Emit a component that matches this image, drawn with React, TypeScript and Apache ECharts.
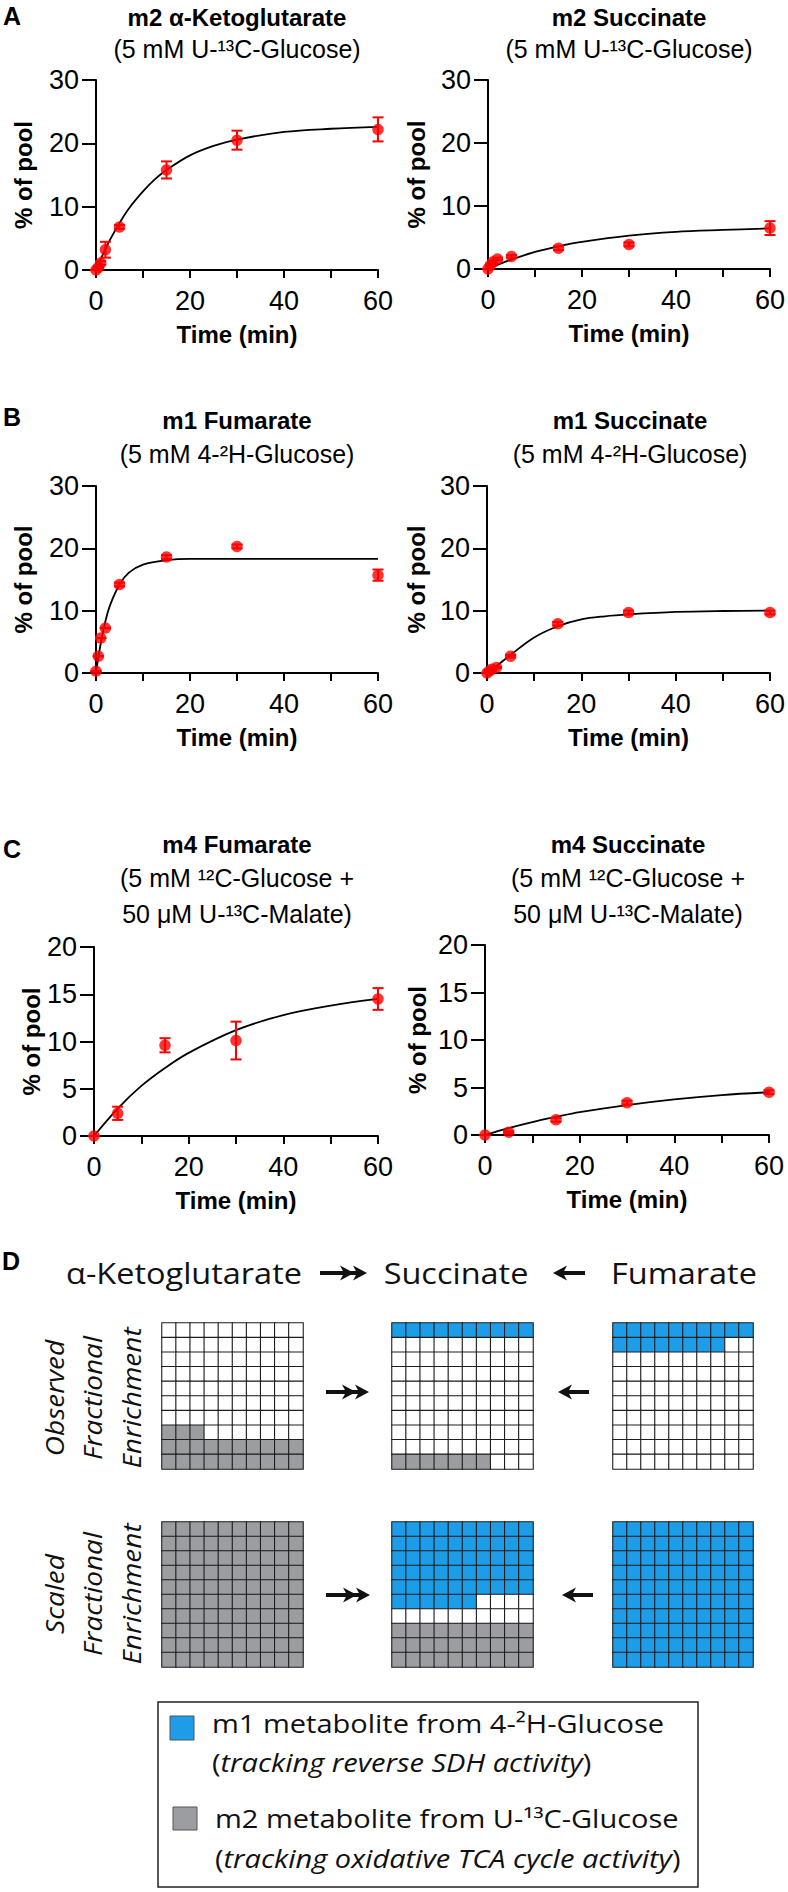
import React, { useEffect, useRef } from "react";
import * as echarts from "echarts";

// ---------------- data ----------------
const timeEarly = [0, 0.5, 1, 2, 5, 15, 30, 60];
const timeMalate = [0, 5, 15, 30, 60];

const akgM2Mean = [0, 0.4, 1.1, 3.2, 6.8, 15.8, 20.5, 22.2];
const akgM2Sem = [0, 0.2, 0.3, 1.25, 0.3, 1.35, 1.5, 1.9];
const akgM2FitT = [0, 1, 2, 3, 5, 7, 10, 12.5, 15, 20, 25, 30, 40, 50, 60];
const akgM2FitY = [0, 1.7, 3.3, 4.8, 7.4, 9.7, 12.4, 14.3, 15.8, 18.1, 19.6, 20.6, 21.8, 22.3, 22.6];

const sucM2Mean = [0, 0.6, 1.1, 1.6, 2.0, 3.3, 3.9, 6.5];
const sucM2Sem = [0, 0.1, 0.2, 0.2, 0.2, 0.3, 0.3, 1.1];
const sucM2FitT = [0, 2, 5, 10, 15, 20, 30, 40, 50, 60];
const sucM2FitY = [0, 0.65, 1.5, 2.7, 3.6, 4.3, 5.3, 5.9, 6.2, 6.45];

const fumM1Mean = [0.3, 2.7, 5.6, 7.2, 14.2, 18.6, 20.3, 15.7];
const fumM1Sem = [0, 0, 0, 0, 0.3, 0.3, 0.3, 0.9];
const fumM1FitT = [0, 0.5, 1, 2, 3, 5, 7, 10, 15, 20, 30, 40, 50, 60];
const fumM1FitY = [0, 2.5, 4.7, 8.3, 10.9, 14.2, 16.1, 17.4, 18.1, 18.3, 18.3, 18.3, 18.3, 18.3];

const sucM1Mean = [0, 0.3, 0.6, 0.9, 2.7, 7.9, 9.7, 9.7];
const sucM1Sem = [0, 0, 0, 0.1, 0.2, 0.3, 0.3, 0.3];
const sucM1FitT = [0, 1, 2, 5, 10, 15, 20, 25, 30, 40, 50, 60];
const sucM1FitY = [0, 0.5, 1.1, 2.9, 5.7, 7.5, 8.6, 9.1, 9.4, 9.8, 9.95, 10.0];

const fumM4Mean = [0, 2.4, 9.6, 10.1, 14.5];
const fumM4Sem = [0, 0.7, 0.75, 2.0, 1.15];
const fumM4FitT = [0, 5, 10, 15, 20, 30, 40, 50, 60];
const fumM4FitY = [0, 2.9, 5.3, 7.2, 8.8, 11.2, 12.8, 13.8, 14.5];

const sucM4Mean = [0, 0.3, 1.6, 3.4, 4.5];
const sucM4Sem = [0, 0.1, 0.2, 0.2, 0.2];
const sucM4FitT = [0, 5, 10, 15, 20, 30, 40, 50, 60];
const sucM4FitY = [0, 0.73, 1.36, 1.9, 2.4, 3.15, 3.75, 4.2, 4.5];

// axis ticks
const timeMax = 60;
const timeTickStep = 10;
const timeTickLabels = [0, 20, 40, 60];
const poolMaxAB = 30;
const poolStepAB = 10;
const poolMaxC = 20;
const poolStepC = 5;

// titles
const plotTitles = [
  ["m2 α-Ketoglutarate", "(5 mM U-¹³C-Glucose)"],
  ["m2 Succinate", "(5 mM U-¹³C-Glucose)"],
  ["m1 Fumarate", "(5 mM 4-²H-Glucose)"],
  ["m1 Succinate", "(5 mM 4-²H-Glucose)"],
  ["m4 Fumarate", "(5 mM ¹²C-Glucose +", "50 μM U-¹³C-Malate)"],
  ["m4 Succinate", "(5 mM ¹²C-Glucose +", "50 μM U-¹³C-Malate)"],
];

// panel D: number of cells (of 100) in each 10x10 grid
const metabolites = ["α-Ketoglutarate", "Succinate", "Fumarate"];
const observedBlueCells = [0, 10, 18];
const observedGrayCells = [23, 7, 0];
const scaledBlueCells = [0, 56, 100];
const scaledGrayCells = [100, 30, 0];

// ---------------- layout / style ----------------
const RED = "#ff0000";
const BLUE = "#1d9de8";
const GRAY = "#9b9da0";
const SANS = "'Liberation Sans', Arial, sans-serif";
const NARROW = "'Liberation Sans Narrow', 'Arial Narrow', 'Liberation Sans', sans-serif";
const MYRIAD = "'Open Sans', 'Noto Sans', sans-serif";

const plotData = [
  { t: timeEarly, mean: akgM2Mean, sem: akgM2Sem, ft: akgM2FitT, fy: akgM2FitY, yMax: poolMaxAB, yStep: poolStepAB },
  { t: timeEarly, mean: sucM2Mean, sem: sucM2Sem, ft: sucM2FitT, fy: sucM2FitY, yMax: poolMaxAB, yStep: poolStepAB },
  { t: timeEarly, mean: fumM1Mean, sem: fumM1Sem, ft: fumM1FitT, fy: fumM1FitY, yMax: poolMaxAB, yStep: poolStepAB },
  { t: timeEarly, mean: sucM1Mean, sem: sucM1Sem, ft: sucM1FitT, fy: sucM1FitY, yMax: poolMaxAB, yStep: poolStepAB },
  { t: timeMalate, mean: fumM4Mean, sem: fumM4Sem, ft: fumM4FitT, fy: fumM4FitY, yMax: poolMaxC, yStep: poolStepC },
  { t: timeMalate, mean: sucM4Mean, sem: sucM4Sem, ft: sucM4FitT, fy: sucM4FitY, yMax: poolMaxC, yStep: poolStepC },
];

const plotLayout = [
  { left: 96, top: 80, width: 282, height: 190, yGap: 61, tx: 237, ty: [17, 49] },
  { left: 488, top: 80, width: 283, height: 189, yGap: 60, tx: 629, ty: [17, 49] },
  { left: 96, top: 486, width: 282, height: 187, yGap: 61, tx: 237, ty: [420, 454] },
  { left: 487, top: 486, width: 284, height: 187, yGap: 59, tx: 630, ty: [420, 454] },
  { left: 94, top: 947, width: 284, height: 189, yGap: 50, tx: 237, ty: [844, 878, 914] },
  { left: 485, top: 945, width: 284, height: 190, yGap: 56, tx: 628, ty: [844, 878, 914] },
];

const cellGridLeft = [162, 392, 613];
const cellGridWidth = [141, 141, 140];
const cellGridTop = [1323, 1522];
const cellGridHeight = [146, 145];

function buildCells(blue: number, gray: number) {
  const out: number[][] = [];
  for (let r = 0; r < 10; r++) {
    for (let c = 0; c < 10; c++) {
      const topIdx = r * 10 + c;
      const botIdx = (9 - r) * 10 + c;
      let v = 0;
      if (topIdx < blue) v = 1;
      else if (botIdx < gray) v = 2;
      out.push([c, r, v]);
    }
  }
  return out;
}

function txt(x: number, y: number, text: string, o: any = {}) {
  return {
    type: "text",
    x,
    y,
    rotation: o.rotation || 0,
    scaleX: o.scaleX || 1,
    silent: true,
    style: {
      text,
      fill: o.fill || "#000",
      fontFamily: o.fontFamily || SANS,
      fontSize: o.fontSize || 24,
      fontWeight: o.fontWeight || "normal",
      fontStyle: o.fontStyle || "normal",
      textAlign: o.align || "center",
      align: o.align || "center",
      textVerticalAlign: "middle",
      verticalAlign: "middle",
      rich: o.rich,
    },
  };
}

function arrowRight(x1: number, x2: number, y: number) {
  const head = (tip: number) => ({
    type: "polygon",
    silent: true,
    shape: { points: [[tip, y], [tip - 14, y - 7.5], [tip - 10, y], [tip - 14, y + 7.5]] },
    style: { fill: "#111" },
  });
  return [
    { type: "line", silent: true, shape: { x1, y1: y, x2: x2 - 6, y2: y }, style: { stroke: "#111", lineWidth: 4 } },
    head(x2 - 13),
    head(x2),
  ];
}

function arrowLeft(x1: number, x2: number, y: number) {
  return [
    { type: "line", silent: true, shape: { x1: x1 + 6, y1: y, x2, y2: y }, style: { stroke: "#111", lineWidth: 4 } },
    {
      type: "polygon",
      silent: true,
      shape: { points: [[x1, y], [x1 + 14, y - 7.5], [x1 + 10, y], [x1 + 14, y + 7.5]] },
      style: { fill: "#111" },
    },
  ];
}

function buildOption() {
  const grid: any[] = [];
  const xAxis: any[] = [];
  const yAxis: any[] = [];
  const series: any[] = [];
  const graphic: any[] = [];

  plotData.forEach((p, i) => {
    const L = plotLayout[i];
    grid.push({ left: L.left, top: L.top, width: L.width, height: L.height });
    xAxis.push({
      gridIndex: i,
      type: "value",
      min: 0,
      max: timeMax,
      interval: timeTickStep,
      axisLine: { show: true, onZero: false, lineStyle: { color: "#000", width: 2 } },
      axisTick: { show: true, length: 8, lineStyle: { color: "#000", width: 2 } },
      axisLabel: {
        margin: 17,
        fontSize: 27,
        color: "#000",
        fontFamily: NARROW,
        showMinLabel: true,
        showMaxLabel: true,
        formatter: (v: number) => (timeTickLabels.indexOf(v) >= 0 ? String(v) : ""),
      },
      splitLine: { show: false },
      name: "Time (min)",
      nameLocation: "middle",
      nameGap: 52,
      nameTextStyle: { fontSize: 24, fontWeight: "bold", color: "#000", fontFamily: SANS },
    });
    yAxis.push({
      gridIndex: i,
      type: "value",
      min: 0,
      max: p.yMax,
      interval: p.yStep,
      axisLine: { show: true, onZero: false, lineStyle: { color: "#000", width: 2 } },
      axisTick: { show: true, length: 14, lineStyle: { color: "#000", width: 2 } },
      axisLabel: { margin: 17, fontSize: 27, color: "#000", fontFamily: NARROW, showMaxLabel: true },
      splitLine: { show: false },
      name: "% of pool",
      nameLocation: "middle",
      nameGap: L.yGap,
      nameTextStyle: { fontSize: 24, fontWeight: "bold", color: "#000", fontFamily: SANS },
    });
    series.push({
      type: "line",
      xAxisIndex: i,
      yAxisIndex: i,
      data: p.ft.map((t, j) => [t, p.fy[j]]),
      smooth: 0.35,
      showSymbol: false,
      symbol: "none",
      lineStyle: { color: "#000", width: 1.8 },
      silent: true,
      z: 2,
    });
    series.push({
      type: "custom",
      xAxisIndex: i,
      yAxisIndex: i,
      silent: true,
      clip: false,
      z: 3,
      encode: { x: 0, y: [1, 2] },
      data: p.t.map((t, j) => [t, p.mean[j] - p.sem[j], p.mean[j] + p.sem[j]]),
      renderItem: (params: any, api: any) => {
        const x = api.value(0);
        const lo = api.coord([x, api.value(1)]);
        const hi = api.coord([x, api.value(2)]);
        const cw = 5.5;
        const st = { stroke: RED, lineWidth: 2 };
        return {
          type: "group",
          children: [
            { type: "line", shape: { x1: lo[0], y1: lo[1], x2: hi[0], y2: hi[1] }, style: st },
            { type: "line", shape: { x1: lo[0] - cw, y1: lo[1], x2: lo[0] + cw, y2: lo[1] }, style: st },
            { type: "line", shape: { x1: hi[0] - cw, y1: hi[1], x2: hi[0] + cw, y2: hi[1] }, style: st },
          ],
        };
      },
    });
    series.push({
      type: "scatter",
      xAxisIndex: i,
      yAxisIndex: i,
      data: p.t.map((t, j) => [t, p.mean[j]]),
      symbol: "circle",
      symbolSize: 11.5,
      clip: false,
      itemStyle: { color: RED },
      silent: true,
      z: 4,
    });

    const titles = plotTitles[i];
    titles.forEach((s, k) => {
      graphic.push(txt(L.tx, L.ty[k], s, { fontWeight: k === 0 ? "bold" : "normal", fontSize: k === 0 ? 24 : 25 }));
    });
  });

  // panel D heatmaps
  const heatIdx: number[] = [];
  const counts = [
    [observedBlueCells, observedGrayCells],
    [scaledBlueCells, scaledGrayCells],
  ];
  const cats = ["0", "1", "2", "3", "4", "5", "6", "7", "8", "9"];
  counts.forEach((pair, row) => {
    metabolites.forEach((m, col) => {
      const gi = grid.length;
      grid.push({ left: cellGridLeft[col], top: cellGridTop[row], width: cellGridWidth[col], height: cellGridHeight[row] });
      xAxis.push({ gridIndex: gi, type: "category", data: cats, show: false });
      yAxis.push({ gridIndex: gi, type: "category", data: cats, show: false, inverse: true });
      heatIdx.push(series.length);
      series.push({
        type: "heatmap",
        name: m,
        xAxisIndex: gi,
        yAxisIndex: gi,
        data: buildCells(pair[0][col], pair[1][col]),
        itemStyle: { borderColor: "#1e1e1e", borderWidth: 1.1 },
        silent: true,
      });
    });
  });

  // panel letters
  graphic.push(txt(12, 16, "A", { fontWeight: "bold", fontSize: 25 }));
  graphic.push(txt(12, 417, "B", { fontWeight: "bold", fontSize: 25 }));
  graphic.push(txt(12, 849, "C", { fontWeight: "bold", fontSize: 25 }));
  graphic.push(txt(11, 1261, "D", { fontWeight: "bold", fontSize: 25 }));

  // panel D header
  const dFont = { fontFamily: MYRIAD, fontSize: 29, scaleX: 1.12, fill: "#111" };
  graphic.push(txt(184, 1273, metabolites[0], dFont));
  graphic.push(txt(456, 1273, metabolites[1], dFont));
  graphic.push(txt(684, 1273, metabolites[2], dFont));
  graphic.push(...arrowRight(320, 367, 1273));
  graphic.push(...arrowLeft(553, 585, 1273));
  graphic.push(...arrowRight(326, 369, 1392));
  graphic.push(...arrowLeft(558, 589, 1392));
  graphic.push(...arrowRight(326, 370, 1595));
  graphic.push(...arrowLeft(562, 593, 1595));

  // rotated row labels
  const rowLabels = [
    ["Observed", "Fractional", "Enrichment"],
    ["Scaled", "Fractional", "Enrichment"],
  ];
  const rowCenters = [1398, 1594];
  const lineX = [55, 93, 132];
  rowLabels.forEach((lines, r) => {
    lines.forEach((s, k) => {
      graphic.push(
        txt(lineX[k], rowCenters[r], s, {
          rotation: Math.PI / 2,
          fontFamily: MYRIAD,
          fontStyle: "italic",
          fontSize: 25,
          scaleX: 1.12,
          fill: "#111",
        })
      );
    });
  });

  // legend box
  graphic.push({
    type: "rect",
    silent: true,
    shape: { x: 158, y: 1702, width: 540, height: 185 },
    style: { fill: "none", stroke: "#222", lineWidth: 1.5 },
  });
  graphic.push({
    type: "rect",
    silent: true,
    shape: { x: 170, y: 1716, width: 24, height: 24 },
    style: { fill: BLUE, stroke: "#555", lineWidth: 1 },
  });
  graphic.push({
    type: "rect",
    silent: true,
    shape: { x: 173, y: 1807, width: 24, height: 23 },
    style: { fill: GRAY, stroke: "#555", lineWidth: 1 },
  });
  const legRich = {
    n: { fontFamily: MYRIAD, fontSize: 25, fill: "#111", fontStyle: "normal" },
    i: { fontFamily: MYRIAD, fontSize: 25, fill: "#111", fontStyle: "italic" },
  };
  const legOpt = { fontFamily: MYRIAD, fontSize: 25, scaleX: 1.16, align: "left", fill: "#111", rich: legRich };
  graphic.push(txt(212, 1723, "{n|m1 metabolite from 4-²H-Glucose}", legOpt));
  graphic.push(txt(212, 1762, "{n|(}{i|tracking reverse SDH activity}{n|)}", legOpt));
  graphic.push(txt(215, 1818, "{n|m2 metabolite from U-¹³C-Glucose}", legOpt));
  graphic.push(txt(215, 1858, "{n|(}{i|tracking oxidative TCA cycle activity}{n|)}", legOpt));

  return {
    animation: false,
    backgroundColor: "#ffffff",
    grid,
    xAxis,
    yAxis,
    visualMap: {
      type: "piecewise",
      show: false,
      dimension: 2,
      seriesIndex: heatIdx,
      pieces: [
        { value: 0, color: "#ffffff" },
        { value: 1, color: BLUE },
        { value: 2, color: GRAY },
      ],
    },
    series,
    graphic,
  };
}

export default function App() {
  const ref = useRef<HTMLDivElement>(null);
  useEffect(() => {
    if (!ref.current) return;
    const chart = echarts.init(ref.current, null, { renderer: "svg" });
    chart.setOption(buildOption() as any);
    return () => chart.dispose();
  }, []);
  return (
    <div
      ref={ref}
      style={{ position: "absolute", left: 0, top: 0, width: 788, height: 1892, background: "#fff" }}
    />
  );
}
